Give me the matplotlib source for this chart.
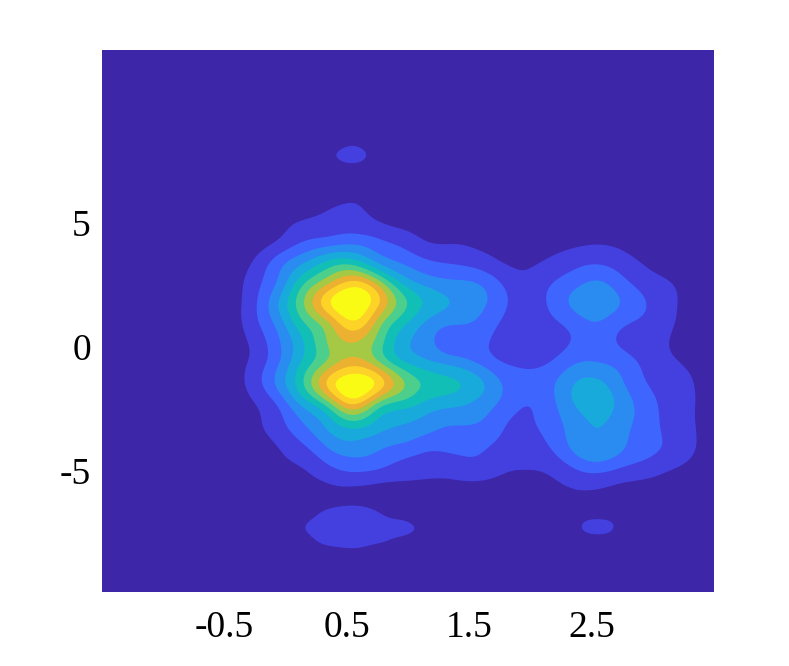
import matplotlib
matplotlib.use("Agg")
import matplotlib.pyplot as plt
import matplotlib.tri as mtri
import numpy as np

x_grid = [-1.5,-0.45,-0.25,-0.05,0.15,0.35,0.55,0.75,0.95,1.15,1.35,1.55,1.75,1.95,2.15,2.35,2.55,2.75,2.95,3.15,3.35,3.5]
y_grid = [12,8.15,7.75,7.35,6.55,5.75,4.95,4.15,3.35,2.55,1.75,.95,.15,-.65,-1.45,-2.25,-3.05,-3.85,-4.65,-5.45,-6.25,-6.95,-7.25,-7.55,-8.25,-10]
density = [
[.05,.05,.05,.05,.05,.05,.05,.05,.05,.05,.05,.05,.05,.05,.05,.05,.05,.05,.05,.05,.05,.05],
[.05,.1,.1,.15,.2,.45,.95,.35,.2,.15,.1,.1,.1,.1,.1,.1,.1,.1,.1,.1,.05,.05],
[.05,.1,.1,.15,.25,.8,1.6,.6,.25,.15,.1,.1,.1,.1,.1,.1,.1,.1,.1,.1,.05,.05],
[.05,.1,.1,.15,.25,.5,.85,.4,.25,.15,.1,.1,.1,.1,.1,.1,.1,.1,.1,.1,.05,.05],
[.05,.1,.15,.25,.4,.5,.6,.5,.35,.25,.2,.15,.1,.1,.1,.1,.15,.1,.1,.1,.05,.05],
[.05,.1,.2,.4,.6,.9,1.02,.85,.6,.4,.35,.3,.2,.15,.15,.2,.25,.2,.1,.1,.05,.05],
[.05,.1,.4,.75,1.15,1.35,1.45,1.1,.8,.6,.45,.35,.3,.25,.3,.4,.5,.35,.25,.15,.1,.05],
[.05,.2,.6,1.25,2.2,2.7,2.95,2.4,1.8,1.1,1.0,.85,.6,.5,.65,.85,.98,.8,.5,.3,.15,.05],
[.05,.3,1.2,2.7,4.1,5.5,5.8,4.1,3.0,2.3,2.0,1.7,1.1,.85,1.2,1.7,1.98,1.5,.9,.4,.15,.05],
[.05,.45,1.65,3.3,6.0,8.0,9.6,7.9,5.0,3.75,3.3,3.1,2.1,1.3,1.9,2.7,3.2,2.4,1.55,1.05,.3,.1],
[.1,.55,1.85,4.15,7.05,9.9,11.1,9.3,6.5,4.85,4.0,3.4,2.4,1.5,2.1,3.2,3.5,2.95,2.0,1.2,.5,.15],
[.1,.5,1.75,3.5,5.9,7.8,9.8,7.6,5.3,3.8,3.1,2.9,1.95,1.4,1.7,2.4,2.95,2.2,1.7,1.1,.5,.15],
[.1,.4,1.3,2.9,5.0,7.1,7.95,6.6,4.4,3.35,2.4,2.35,1.6,1.35,1.5,2.1,2.5,1.8,1.35,.95,.45,.15],
[.1,.4,1.35,3.0,5.3,7.3,8.6,7.3,5.25,4.3,3.75,3.05,2.1,1.8,2.0,2.9,3.05,2.6,1.7,1.15,.7,.15],
[.1,.5,1.55,3.45,6.1,9.4,11.0,9.9,7.3,5.8,5.25,4.5,3.1,2.3,2.7,3.95,4.25,3.1,2.0,1.5,.95,.2],
[.05,.3,1.0,2.3,4.5,6.8,9.4,7.0,5.7,4.8,4.4,3.85,2.9,2.05,2.6,4.0,4.6,3.6,2.4,1.6,1.0,.2],
[.05,.2,.8,1.7,3.05,4.45,5.75,4.75,4.1,3.6,3.1,3.05,2.3,1.75,2.5,3.4,4.1,3.4,2.5,1.6,1.0,.15],
[.05,.1,.55,1.15,2.1,3.35,3.9,3.4,3.05,2.5,2.45,2.3,1.85,1.35,2.1,3.3,3.9,3.2,2.4,1.8,1.05,.15],
[.05,.05,.3,.8,1.2,2.15,2.7,2.5,1.85,1.55,1.6,1.85,1.35,1.1,1.4,2.4,3.0,2.4,1.85,1.35,.75,.1],
[.05,.05,.2,.45,.7,1.05,1.25,1.05,.95,.9,.9,.95,.85,.8,.85,1.2,1.3,1.0,.85,.55,.3,.05],
[.05,.05,.1,.25,.6,.75,.8,.75,.65,.5,.45,.65,.6,.55,.6,.7,.55,.65,.5,.35,.2,.05],
[.05,.05,.1,.3,.85,1.37,1.75,1.19,.99,.7,.5,.4,.4,.4,.4,.6,1.0,.6,.4,.25,.1,.05],
[.05,.05,.1,.4,1.02,1.45,1.8,1.3,1.15,.85,.5,.4,.35,.35,.4,.6,1.95,.6,.35,.2,.1,.05],
[.05,.05,.1,.3,.9,1.4,1.7,1.22,1.03,.8,.45,.35,.3,.3,.35,.5,1.0,.5,.3,.2,.1,.05],
[.05,.05,.1,.2,.6,.75,.82,.77,.83,.5,.3,.25,.2,.2,.2,.3,.4,.3,.2,.15,.1,.05],
[.05,.05,.05,.05,.05,.05,.05,.05,.05,.05,.05,.05,.05,.05,.05,.05,.05,.05,.05,.05,.05,.05],
]
contour_levels = [1,2,3,4,5,6,7,8,9,10]
background_color = "#3d26a8"
band_colors = ["#4440e0","#3e66ff","#2a8cf0","#19aadc","#12bfb6",
               "#4ccf8c","#a5c845","#ecb131","#fdd327","#f9fb15"]
x_ticks = [-0.5,0.5,1.5,2.5]
x_labels = ["-0.5","0.5","1.5","2.5"]
y_ticks = [-5,0,5]
y_labels = ["-5","0","5"]

fig = plt.figure(figsize=(7.89,6.66),dpi=100)
ax = fig.add_axes([102/789,1-592/666,612/789,542/666])
ax.set_facecolor(background_color)

# smooth rendering of the read grid: cubic surfaces over both cell diagonals,
# averaged on a fine mesh, then a light blur to take out the grid's facets
sx, sy = 122.3, 24.8
X, Y = np.meshgrid(x_grid, y_grid)
nr, nc = X.shape
tris_a, tris_b = [], []
for r in range(nr-1):
    for c in range(nc-1):
        a, b, d, e = r*nc+c, r*nc+c+1, (r+1)*nc+c, (r+1)*nc+c+1
        tris_a += [[a,b,e],[a,e,d]]
        tris_b += [[a,b,d],[b,e,d]]
z = np.array(density).ravel()
xf = np.linspace(-1.4999, 3.4999, 612)
yf = np.linspace(-9.9999, 11.9999, 542)
XF, YF = np.meshgrid(xf, yf)
field = 0
for t in (tris_a, tris_b):
    tri = mtri.Triangulation(X.ravel()*sx, Y.ravel()*sy, t)
    interp = mtri.CubicTriInterpolator(tri, z, kind="min_E")
    field = field + 0.5*np.ma.filled(interp(XF*sx, YF*sy), 0.05)
s = np.arange(-12, 13)
kernel = np.exp(-0.5*(s/4.0)**2); kernel /= kernel.sum()
field = np.apply_along_axis(lambda v: np.convolve(np.pad(v,12,mode="edge"), kernel, mode="valid"), 0, field)
field = np.apply_along_axis(lambda v: np.convolve(np.pad(v,12,mode="edge"), kernel, mode="valid"), 1, field)
top = float(field.max()) + 1
for lev, col in zip(contour_levels, band_colors):
    ax.contourf(xf, yf, field, levels=[lev, top], colors=[col], antialiased=True)

ax.set_xlim(-1.5,3.5)
ax.set_ylim(-9.88,11.98)
ax.set_xticks(x_ticks,x_labels)
ax.set_yticks(y_ticks,y_labels)
ax.tick_params(axis="x",length=0,labelsize=27,pad=13)
ax.tick_params(axis="y",length=0,labelsize=27,pad=8)
for lab in ax.get_xticklabels()+ax.get_yticklabels():
    lab.set_family("Liberation Serif")
for s_ in ax.spines.values():
    s_.set_visible(False)
fig.savefig("out.png",dpi=100)
